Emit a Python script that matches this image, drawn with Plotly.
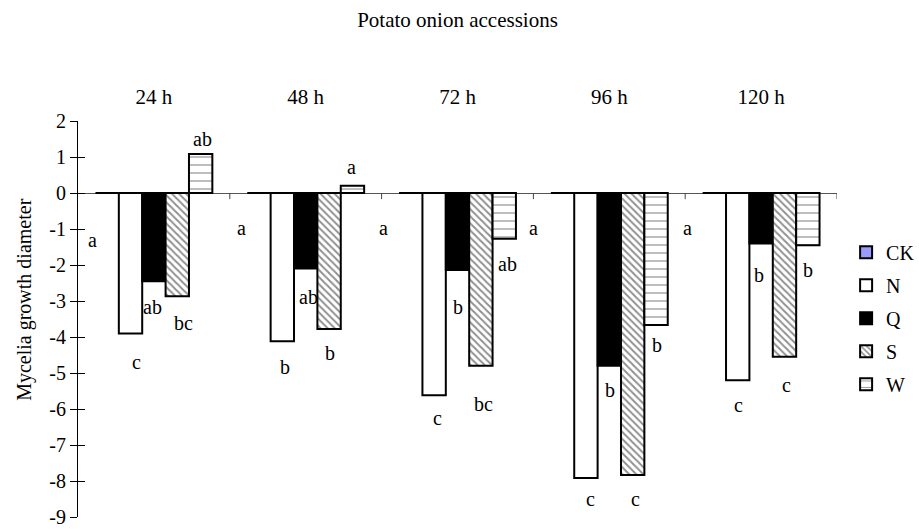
import plotly.graph_objects as go

# ---------------- data ----------------
hours = ["24 h", "48 h", "72 h", "96 h", "120 h"]
series_names = ["CK", "N", "Q", "S", "W"]
ck = [0, 0, 0, 0, 0]
n_vals = [-3.90, -4.12, -5.62, -7.92, -5.20]
q_vals = [-2.45, -2.10, -2.14, -4.80, -1.40]
s_vals = [-2.87, -3.78, -4.80, -7.83, -4.55]
w_vals = [1.08, 0.20, -1.27, -3.67, -1.45]

# significance letters per series and hour
ck_letters = ["a", "a", "a", "a", "a"]
n_letters = ["c", "b", "c", "c", "c"]
q_letters = ["ab", "ab", "b", "b", "b"]
s_letters = ["bc", "b", "bc", "c", "c"]
w_letters = ["ab", "a", "ab", "b", "b"]

y_tick_vals = [2, 1, 0, -1, -2, -3, -4, -5, -6, -7, -8, -9]
y_tick_text = ["2", "1", "0", "-1", "-2", "-3", "-4", "-5", "-6", "-7", "-8", "-9"]

# ---------------- letter placement (offset within group, y in data units) ----------------
ck_lab_dx = [-0.405, -0.426, -0.49, -0.50, -0.488]
ck_lab_y = [-1.31, -0.97, -0.97, -0.97, -0.97]
n_lab_dx = [-0.115, -0.135, -0.133, -0.122, -0.146]
n_lab_y = [-4.69, -4.83, -6.26, -8.50, -5.89]
q_lab_dx = [-0.012, 0.018, 0.0, 0.003, -0.015]
q_lab_y = [-3.16, -2.88, -3.16, -5.47, -2.28]
s_lab_dx = [0.192, 0.161, 0.170, 0.174, 0.166]
s_lab_y = [-3.60, -4.45, -5.87, -8.50, -5.33]
w_lab_dx = [0.317, 0.304, 0.328, 0.313, 0.309]
w_lab_y = [1.51, 0.72, -1.96, -4.22, -2.14]

FONT = "Liberation Serif, Times New Roman, serif"
xpos = list(range(len(hours)))

fig = go.Figure()
line = dict(color="black", width=2)
fig.add_trace(go.Bar(name="CK", x=xpos, y=ck, legendgroup="ck",
                     marker=dict(color="#9999FF", line=line)))
fig.add_trace(go.Bar(name="N", x=xpos, y=n_vals, legendgroup="n",
                     marker=dict(color="white", line=line)))
fig.add_trace(go.Bar(name="Q", x=xpos, y=q_vals, legendgroup="q",
                     marker=dict(color="black", line=line)))
fig.add_trace(go.Bar(name="S", x=xpos, y=s_vals, legendgroup="s",
                     marker=dict(color="white", line=line,
                                 pattern=dict(shape="\\", fgcolor="#222222", bgcolor="white",
                                              size=5, solidity=0.4))))
fig.add_trace(go.Bar(name="W", x=xpos, y=w_vals, legendgroup="w",
                     marker=dict(color="white", line=line,
                                 pattern=dict(shape="-", fgcolor="#222222", bgcolor="white",
                                              size=8, solidity=0.15))))

annotations = []
for letters, dxs, ys in [(ck_letters, ck_lab_dx, ck_lab_y), (n_letters, n_lab_dx, n_lab_y),
                         (q_letters, q_lab_dx, q_lab_y), (s_letters, s_lab_dx, s_lab_y),
                         (w_letters, w_lab_dx, w_lab_y)]:
    for i, (t, dx, yy) in enumerate(zip(letters, dxs, ys)):
        annotations.append(dict(x=i + dx, y=yy, xref="x", yref="y", text=t, showarrow=False,
                                font=dict(family=FONT, size=20, color="black")))

annotations.append(dict(x=-0.07, y=0.548, xref="paper", yref="paper", text="Mycelia growth diameter",
                        textangle=-90, showarrow=False, xanchor="center", yanchor="middle",
                        font=dict(family=FONT, size=20, color="black")))

# boundary tick marks below zero line
shapes = []
for b in [i + 0.5 for i in range(len(hours))]:
    shapes.append(dict(type="line", xref="x", yref="y", x0=b, x1=b, y0=0, y1=-0.17,
                       line=dict(color="#444444", width=1)))

fig.update_layout(
    width=919, height=529,
    margin=dict(l=78, r=82, t=121, b=12, autoexpand=False),
    paper_bgcolor="white", plot_bgcolor="white",
    barmode="group", bargap=0.23, bargroupgap=0,
    font=dict(family=FONT, size=20, color="black"),
    title=dict(text="Potato onion accessions", x=0.5, xref="paper", xanchor="center",
               y=1 - 20 / 529, yref="container", yanchor="middle",
               font=dict(family=FONT, size=21, color="black")),
    xaxis=dict(range=[-0.5, 4.5], tickvals=xpos, ticktext=hours, side="top",
               showgrid=False, zeroline=False, showline=False, automargin=False,
               ticks="outside", ticklen=8, tickcolor="rgba(0,0,0,0)",
               tickfont=dict(family=FONT, size=21, color="black")),
    yaxis=dict(range=[-9, 2], tickvals=y_tick_vals, ticktext=y_tick_text, automargin=False,
               showgrid=False, zeroline=True, zerolinecolor="#555555", zerolinewidth=1,
               showline=True, linecolor="black", linewidth=1,
               ticks="outside", ticklen=7, tickcolor="black", tickwidth=1,
               tickfont=dict(family=FONT, size=20, color="black")),
    yaxis2=dict(range=[-9, 2], overlaying="y", side="left", tickvals=y_tick_vals,
                showticklabels=False, showgrid=False, zeroline=False, showline=False,
                automargin=False,
                ticks="inside", ticklen=7, tickcolor="black", tickwidth=1),
    legend=dict(x=1.012, xanchor="left", y=0.718, yanchor="top",
                font=dict(family=FONT, size=20, color="black"),
                tracegroupgap=4, bgcolor="rgba(0,0,0,0)"),
    annotations=annotations,
    shapes=shapes,
)
# invisible trace to activate yaxis2 ticks
fig.add_trace(go.Scatter(x=[None], y=[None], yaxis="y2", showlegend=False, hoverinfo="skip"))

fig.write_html("out.html", config={"displayModeBar": False},
               post_script="document.body.style.margin='0';document.body.style.padding='0';")
